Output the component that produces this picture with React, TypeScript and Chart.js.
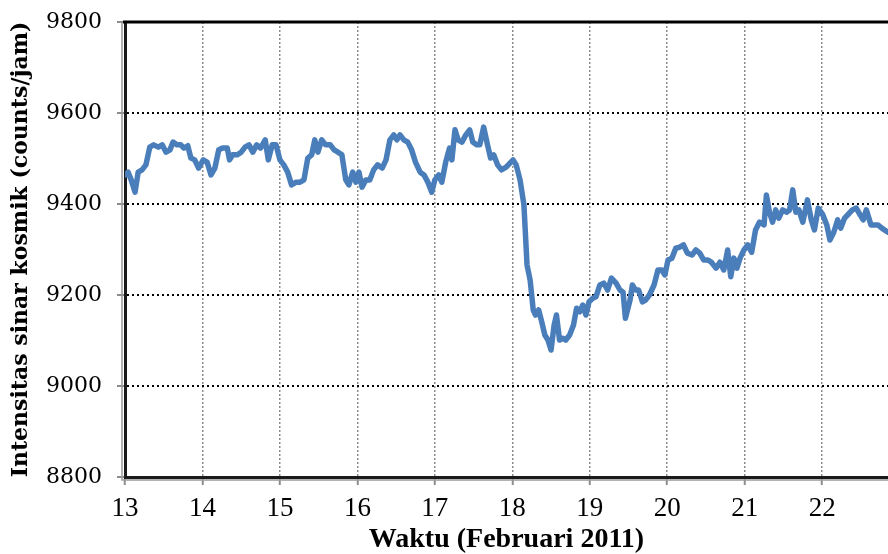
import React, { useEffect, useRef } from "react";
import { Chart, registerables } from "chart.js";

Chart.register(...registerables);

// Time in days of February 2011
const days = [
  13.0, 13.04, 13.08, 13.13, 13.17, 13.22, 13.27, 13.32, 13.37, 13.43, 13.48, 13.53, 13.58, 13.62, 13.67,
  13.72, 13.76, 13.81, 13.85, 13.9, 13.95, 14.01, 14.06, 14.11, 14.16, 14.21, 14.26, 14.32, 14.35, 14.39,
  14.45, 14.5, 14.55, 14.6, 14.65, 14.7, 14.75, 14.81, 14.85, 14.9, 14.95, 15.0, 15.05, 15.1, 15.15,
  15.21, 15.26, 15.31, 15.36, 15.41, 15.45, 15.49, 15.54, 15.59, 15.65, 15.7, 15.75, 15.8, 15.85, 15.89,
  15.94, 15.98, 16.02, 16.06, 16.11, 16.16, 16.21, 16.26, 16.32, 16.37, 16.42, 16.47, 16.51, 16.55, 16.6,
  16.65, 16.7, 16.75, 16.81, 16.86, 16.91, 16.96, 17.0, 17.05, 17.09, 17.14, 17.19, 17.22, 17.26, 17.3,
  17.35, 17.4, 17.45, 17.49, 17.54, 17.58, 17.63, 17.68, 17.72, 17.76, 17.81, 17.86, 17.92, 17.97, 18.01,
  18.05, 18.1, 18.15, 18.19, 18.23, 18.27, 18.3, 18.34, 18.38, 18.42, 18.46, 18.5, 18.54, 18.57, 18.61,
  18.65, 18.69, 18.74, 18.79, 18.83, 18.87, 18.91, 18.95, 18.99, 19.04, 19.08, 19.13, 19.18, 19.23, 19.28,
  19.34, 19.39, 19.43, 19.46, 19.52, 19.55, 19.59, 19.63, 19.68, 19.72, 19.77, 19.83, 19.88, 19.93, 19.97,
  20.01, 20.06, 20.11, 20.16, 20.21, 20.26, 20.32, 20.37, 20.42, 20.47, 20.52, 20.57, 20.63, 20.68, 20.73,
  20.78, 20.82, 20.86, 20.9, 20.94, 20.99, 21.04, 21.09, 21.14, 21.19, 21.25, 21.28, 21.32, 21.36, 21.4,
  21.44, 21.49, 21.54, 21.58, 21.62, 21.66, 21.7, 21.75, 21.81, 21.86, 21.9, 21.95, 22.01, 22.06, 22.1,
  22.15, 22.2, 22.24, 22.29, 22.34, 22.39, 22.44, 22.49, 22.53, 22.57, 22.63, 22.68, 22.72, 22.77, 22.85,
];

// Cosmic ray intensity (counts/hour)
const intensity = [
  9464, 9470, 9453, 9426, 9470, 9475, 9486, 9525, 9530, 9525, 9530, 9514, 9519, 9536, 9530,
  9530, 9523, 9528, 9501, 9497, 9479, 9497, 9492, 9464, 9479, 9519, 9523, 9523, 9497, 9508,
  9508, 9514, 9525, 9530, 9514, 9530, 9523, 9541, 9497, 9530, 9530, 9497, 9486, 9470, 9442,
  9448, 9448, 9453, 9501, 9508, 9541, 9514, 9541, 9530, 9530, 9519, 9514, 9508, 9453, 9442,
  9470, 9448, 9470, 9437, 9453, 9453, 9475, 9486, 9479, 9497, 9541, 9552, 9541, 9552, 9541,
  9536, 9519, 9492, 9470, 9464, 9448, 9426, 9453, 9464, 9448, 9492, 9523, 9497, 9563, 9541,
  9536, 9552, 9563, 9536, 9530, 9530, 9569, 9530, 9501, 9508, 9486, 9475, 9481, 9490, 9497,
  9486, 9453, 9398, 9266, 9233, 9167, 9156, 9167, 9141, 9112, 9101, 9079, 9134, 9156, 9101,
  9105, 9101, 9112, 9134, 9171, 9163, 9178, 9156, 9185, 9193, 9196, 9222, 9226, 9211, 9237,
  9226, 9211, 9206, 9149, 9189, 9222, 9211, 9211, 9185, 9189, 9200, 9222, 9255, 9255, 9244,
  9277, 9281, 9303, 9305, 9310, 9292, 9288, 9299, 9292, 9277, 9277, 9272, 9259, 9272, 9255,
  9299, 9240, 9281, 9259, 9281, 9299, 9310, 9294, 9343, 9360, 9354, 9420, 9382, 9360, 9387,
  9369, 9387, 9382, 9387, 9431, 9382, 9387, 9360, 9409, 9365, 9343, 9391, 9376, 9354, 9321,
  9338, 9365, 9347, 9369, 9378, 9387, 9391, 9376, 9365, 9387, 9354, 9354, 9354, 9347, 9338,
];

const xMin = 13;
const xMax = 22.85;
const yMin = 8800;
const yMax = 9800;
const yStep = 200;
const xStep = 1;

const xTitle = "Waktu (Februari 2011)";
const yTitle = "Intensitas sinar kosmik (counts/jam)";

const NARROW = "'Liberation Serif', 'Times New Roman', serif";
const WIDE = "'DejaVu Serif', serif";

const framePlugin = {
  id: "frame",
  afterDraw(chart: any) {
    const { ctx, chartArea } = chart;
    ctx.save();
    ctx.strokeStyle = "#000";
    ctx.lineWidth = 3;
    ctx.beginPath();
    ctx.moveTo(chartArea.left - 2, chartArea.top);
    ctx.lineTo(chartArea.right, chartArea.top);
    ctx.stroke();
    ctx.strokeStyle = "#9a9a9a";
    ctx.lineWidth = 1.5;
    ctx.beginPath();
    ctx.moveTo(chartArea.left - 3, chartArea.top);
    ctx.lineTo(chartArea.left - 3, chartArea.bottom + 3);
    ctx.lineTo(chartArea.right, chartArea.bottom + 3);
    ctx.stroke();
    ctx.restore();
  },
};

export default function App() {
  const ref = useRef<HTMLCanvasElement>(null);
  useEffect(() => {
    document.body.style.margin = "0";
    const canvas = ref.current;
    if (!canvas) return;
    const chart = new Chart(canvas, {
      type: "line",
      data: {
        datasets: [
          {
            data: days.map((d, i) => ({ x: d, y: intensity[i] })),
            borderColor: "#4a7ebb",
            borderWidth: 5.5,
            pointRadius: 0,
            tension: 0,
            borderJoinStyle: "round",
            borderCapStyle: "round",
            fill: false,
          },
        ],
      },
      options: {
        animation: false,
        responsive: false,
        maintainAspectRatio: false,
        layout: { padding: { top: 22, left: 0, right: 0, bottom: 0 } },
        plugins: { legend: { display: false }, tooltip: { enabled: false } },
        scales: {
          x: {
            type: "linear",
            min: xMin,
            max: xMax,
            afterFit: (s: any) => {
              s.height = 77;
              s.paddingLeft = 0;
              s.paddingRight = 0;
            },
            afterBuildTicks: (s: any) => {
              const t = [];
              for (let v = xMin; v <= xMax; v += xStep) t.push({ value: v });
              s.ticks = t;
            },
            ticks: {
              autoSkip: false,
              maxRotation: 0,
              padding: 8,
              color: "#000",
              callback: (v: any) => String(v),
              font: { family: NARROW, size: 27 },
            },
            grid: {
              color: "#8c8c8c",
              lineWidth: 1.5,
              tickLength: 8,
              tickColor: "#8c8c8c",
              tickWidth: 2,
            },
            border: { display: true, color: "#1a1a1a", width: 3, dash: [2, 2] },
            title: {
              display: true,
              text: xTitle,
              color: "#000",
              font: { family: NARROW, size: 28, weight: "bold", lineHeight: 1 },
              padding: { top: 0, bottom: 0 },
            },
          },
          y: {
            min: yMin,
            max: yMax,
            afterFit: (s: any) => {
              s.width = 125;
              s.paddingTop = 0;
              s.paddingBottom = 0;
            },
            ticks: {
              stepSize: yStep,
              padding: 15,
              color: "#000",
              callback: (v: any) => String(v),
              font: { family: WIDE, size: 22 },
            },
            grid: {
              color: "#000",
              lineWidth: 2,
              tickLength: 8,
              tickColor: "#8c8c8c",
              tickWidth: 2,
            },
            border: { display: true, color: "#1a1a1a", width: 3, dash: [2, 3] },
            title: {
              display: true,
              text: yTitle,
              color: "#000",
              font: { family: WIDE, size: 22, weight: "bold", lineHeight: 1.2 },
              padding: { top: 8, bottom: 0 },
            },
          },
        },
      },
      plugins: [framePlugin],
    });
    return () => chart.destroy();
  }, []);
  return (
    <div style={{ position: "absolute", left: 0, top: 0, width: 888, height: 554 }}>
      <canvas ref={ref} width={888} height={554} style={{ display: "block" }} />
    </div>
  );
}
